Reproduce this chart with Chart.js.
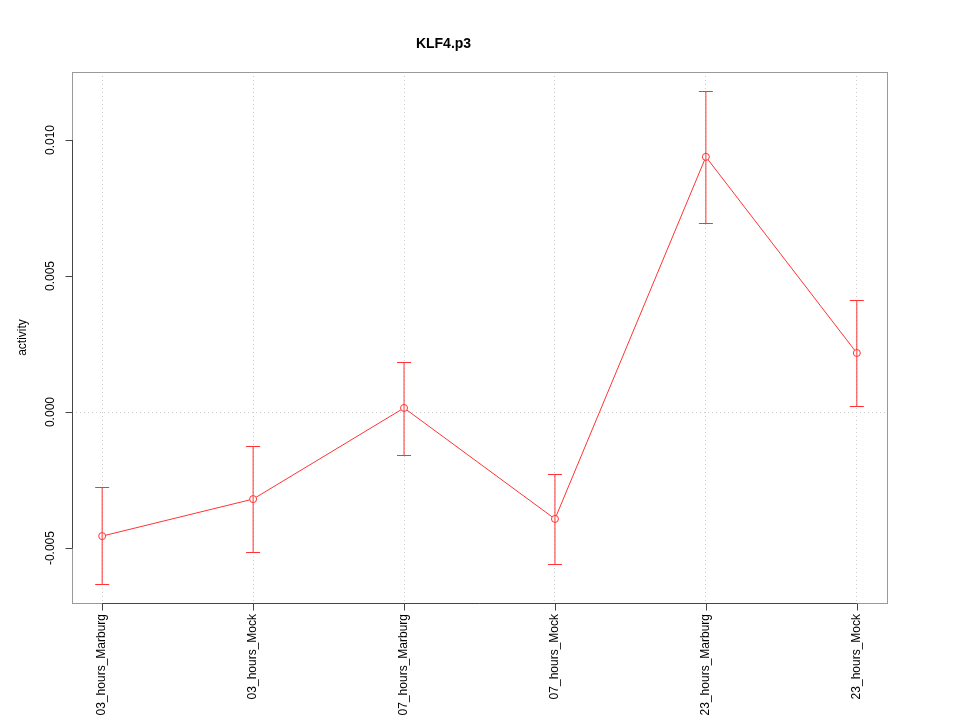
<!DOCTYPE html>
<html>
<head>
<meta charset="utf-8">
<script src="https://cdn.jsdelivr.net/npm/chart.js@4"></script>
<style>
  body { margin: 0; background: #fff; }
  #wrap { width: 960px; height: 720px; }
</style>
</head>
<body>
<div id="wrap"><canvas id="chart" width="960" height="720"></canvas></div>
<script>
const categories = ["03_hours_Marburg", "03_hours_Mock", "07_hours_Marburg", "07_hours_Mock", "23_hours_Marburg", "23_hours_Mock"];
const activity = [-0.00456, -0.0032, 0.00015, -0.00393, 0.00938, 0.00217];
const upper = [-0.00276, -0.00125, 0.00184, -0.00228, 0.0118, 0.00412];
const lower = [-0.00632, -0.00515, -0.00158, -0.00559, 0.00695, 0.00022];
const yTicks = [-0.005, 0, 0.005, 0.010];
const yTickLabels = ["-0.005", "0.000", "0.005", "0.010"];
const yTitle = "activity";

const points = activity.map((v, i) => ({ x: i + 1, y: v }));
const FONT = "'Liberation Sans', Arial, sans-serif";

// error bars, frame, axis ticks and y labels drawn the R way
const extras = {
  id: "extras",
  afterDatasetsDraw(chart) {
    const c = chart.ctx, xs = chart.scales.x, ys = chart.scales.y;
    const a = chart.chartArea;
    c.save();
    c.strokeStyle = "#ff3333";
    c.lineWidth = 1;
    for (let i = 0; i < activity.length; i++) {
      const px = xs.getPixelForValue(i + 1);
      const top = Math.round(ys.getPixelForValue(upper[i])) + 0.5;
      const bot = Math.round(ys.getPixelForValue(lower[i])) + 0.5;
      c.beginPath();
      c.moveTo(px, top); c.lineTo(px, bot);
      c.moveTo(px - 7, top); c.lineTo(px + 7, top);
      c.moveTo(px - 7, bot); c.lineTo(px + 7, bot);
      c.stroke();
    }
    // box
    c.strokeStyle = "#999";
    c.strokeRect(Math.round(a.left) + 0.5, Math.round(a.top) + 0.5, Math.round(a.right - a.left), Math.round(a.bottom - a.top));
    // axes
    c.strokeStyle = "#444";
    const bx = Math.round(a.bottom) + 0.5, lx = Math.round(a.left) + 0.5;
    c.beginPath();
    c.moveTo(xs.getPixelForValue(1), bx); c.lineTo(xs.getPixelForValue(6), bx);
    for (let i = 1; i <= 6; i++) {
      const px = Math.round(xs.getPixelForValue(i)) + 0.5;
      c.moveTo(px, bx); c.lineTo(px, bx + 7);
    }
    c.moveTo(lx, ys.getPixelForValue(yTicks[0])); c.lineTo(lx, ys.getPixelForValue(yTicks[yTicks.length - 1]));
    yTicks.forEach(t => {
      const py = Math.round(ys.getPixelForValue(t)) + 0.5;
      c.moveTo(lx, py); c.lineTo(lx - 7, py);
    });
    c.stroke();
    // y tick labels and axis title, rotated
    c.fillStyle = "#000";
    c.font = "12px " + FONT;
    c.textAlign = "center";
    c.textBaseline = "middle";
    yTicks.forEach((t, k) => {
      c.save();
      c.translate(51, ys.getPixelForValue(t));
      c.rotate(-Math.PI / 2);
      c.fillText(yTickLabels[k], 0, 0);
      c.restore();
    });
    c.save();
    c.translate(23, (a.top + a.bottom) / 2);
    c.rotate(-Math.PI / 2);
    c.fillText(yTitle, 0, 0);
    c.restore();
    c.restore();
  }
};

new Chart(document.getElementById("chart"), {
  type: "line",
  data: {
    datasets: [{
      data: points,
      borderColor: "#ff3333",
      borderWidth: 1,
      tension: 0,
      pointRadius: 3.5,
      pointBorderColor: "#ff3333",
      pointBackgroundColor: "#ffffff",
      pointBorderWidth: 1,
      fill: false
    }]
  },
  options: {
    responsive: false,
    animation: false,
    layout: { padding: { left: 0, right: 73, top: 0, bottom: 0 } },
    plugins: {
      legend: { display: false },
      tooltip: { enabled: false },
      title: {
        display: true,
        text: "KLF4.p3",
        color: "#000",
        font: { family: FONT, size: 14, weight: "bold", lineHeight: 1.2 },
        padding: { top: 36, bottom: 19.2 }
      }
    },
    scales: {
      x: {
        type: "linear",
        min: 0.8,
        max: 6.2,
        afterBuildTicks: s => { s.ticks = categories.map((_, i) => ({ value: i + 1 })); },
        afterFit: s => { s.height = 117; },
        grid: { color: "#cccccc", drawTicks: false },
        border: { display: false, dash: [1, 3] },
        ticks: {
          autoSkip: false,
          minRotation: 90,
          maxRotation: 90,
          padding: 11,
          color: "#000",
          font: { family: FONT, size: 12 },
          callback: v => categories[v - 1]
        }
      },
      y: {
        min: -0.00702,
        max: 0.0125,
        afterBuildTicks: s => { s.ticks = yTicks.map(v => ({ value: v })); },
        afterFit: s => { s.width = 72; },
        grid: { color: ctx => (ctx.tick && ctx.tick.value === 0 ? "#cccccc" : "rgba(0,0,0,0)"), drawTicks: false },
        border: { display: false, dash: [1, 3] },
        ticks: { display: false }
      }
    }
  },
  plugins: [extras]
});
</script>
</body>
</html>
